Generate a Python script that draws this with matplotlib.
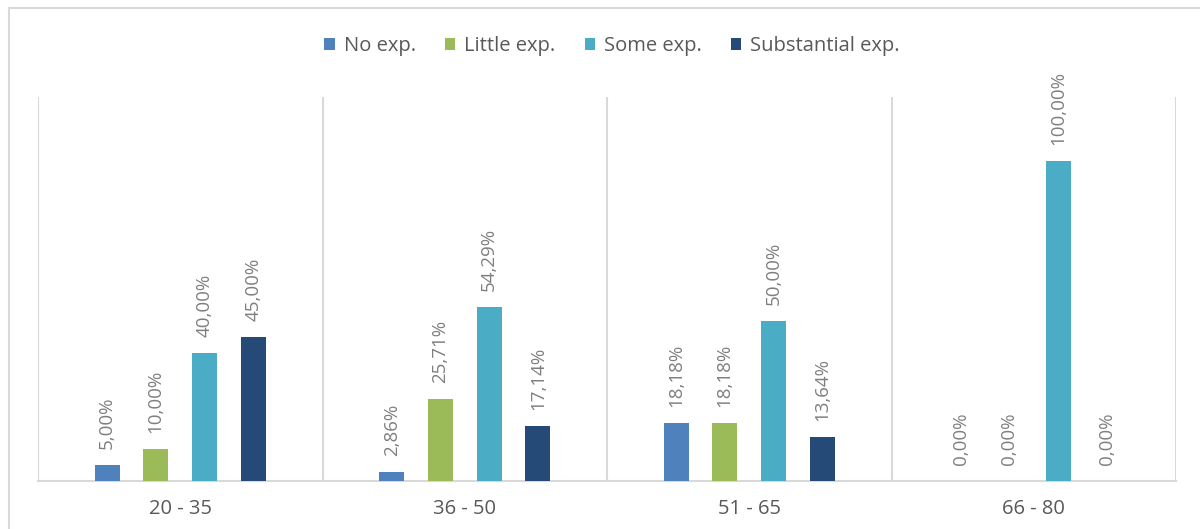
import matplotlib
matplotlib.use("Agg")
import matplotlib.pyplot as plt
from matplotlib.lines import Line2D
import numpy as np

plt.rcParams['font.family'] = ['Open Sans', 'DejaVu Sans']

# Age groups and the share of respondents per experience level
age_groups = ["20 - 35", "36 - 50", "51 - 65", "66 - 80"]
series_names = ["No exp.", "Little exp.", "Some exp.", "Substantial exp."]
no_exp = [5.00, 2.86, 18.18, 0.00]
little_exp = [10.00, 25.71, 18.18, 0.00]
some_exp = [40.00, 54.29, 50.00, 100.00]
substantial_exp = [45.00, 17.14, 13.64, 0.00]

colors = ["#4F81BD", "#9BBB59", "#4BACC6", "#254A77"]
grid_c = "#D9D9D9"
label_c = "#7F7F7F"
text_c = "#595959"

W, H = 1200, 529
fig = plt.figure(figsize=(W / 100, H / 100), dpi=100)

# outer chart frame (continues beyond the right and bottom edges)
fig.add_artist(Line2D([9 / W, 1.02], [1 - 8 / H, 1 - 8 / H], color=grid_c, lw=1.5,
                      transform=fig.transFigure, clip_on=False))
fig.add_artist(Line2D([9 / W, 9 / W], [1 - 8 / H, -0.02], color=grid_c, lw=1.5,
                      transform=fig.transFigure, clip_on=False))

left, right, top, bottom = 38, 1176, 97, 481
ax = fig.add_axes([left / W, 1 - bottom / H, (right - left) / W, (bottom - top) / H])

x = np.arange(len(age_groups))
offsets = [-0.257, -0.086, 0.086, 0.257]
width = 0.088
all_series = [no_exp, little_exp, some_exp, substantial_exp]

for vals, off, col, name in zip(all_series, offsets, colors, series_names):
    fracs = np.array(vals) / 100
    bars = ax.bar(x + off, fracs, width, color=col, label=name, zorder=3)
    for b, v in zip(bars, vals):
        ax.annotate(f"{v:.2f}%".replace(".", ","),
                    (b.get_x() + b.get_width() / 2, b.get_height()),
                    xytext=(0, 11.5), textcoords="offset points",
                    rotation=90, ha="center", va="bottom",
                    fontsize=13.5, color=label_c)

ax.set_xlim(-0.5, len(age_groups) - 0.5)
ax.set_ylim(0, 1.2)

# category separators
for xb in np.arange(-0.5, len(age_groups)):
    ax.axvline(xb, color=grid_c, lw=1.5, zorder=1)

for s in ["top", "right", "left"]:
    ax.spines[s].set_visible(False)
ax.spines["bottom"].set_color(grid_c)
ax.spines["bottom"].set_linewidth(1.5)

ax.set_yticks([])
ax.set_xticks(x)
ax.set_xticklabels(age_groups, fontsize=14.5, color=text_c)
ax.tick_params(axis="x", length=0, pad=13)

fig.legend(loc="center", bbox_to_anchor=(612 / W, 1 - 46 / H), ncol=4,
           frameon=False, fontsize=14.5, labelcolor=text_c,
           handlelength=0.5, handleheight=0.5, handletextpad=0.45, columnspacing=1.45)

fig.savefig("out.png", dpi=100)
